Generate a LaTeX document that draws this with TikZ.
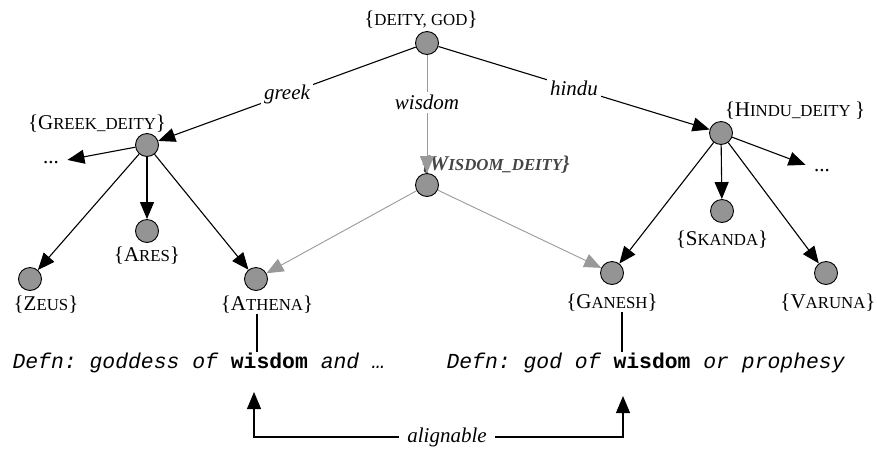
\documentclass[tikz,border=0pt]{standalone}
\usepackage{fontspec}
\setmainfont{Liberation Serif}
\setmonofont{Liberation Mono}
\usepackage{tikz}
\usetikzlibrary{arrows.meta}
\definecolor{linegray}{gray}{0.6}
\definecolor{dotgray}{gray}{0.58}
\definecolor{labgray}{gray}{0.27}
\newcommand\smc[1]{{\fontsize{16.8}{18}\selectfont #1}}

\begin{document}
\begin{tikzpicture}[x=1pt, y=-1pt, line width=1.1pt,
  syn/.style={circle, draw=black, fill=dotgray, minimum size=23pt, inner sep=0pt, line width=0.9pt},
  synlab/.style={font=\fontsize{21}{24}\selectfont, inner sep=0pt},
  rellab/.style={font=\fontsize{21}{24}\selectfont\itshape, fill=white, text=black, inner sep=3pt},
  more/.style={font=\fontsize{21}{24}\selectfont, inner sep=8pt},
  defn/.style={font=\fontsize{21.4}{24}\selectfont\ttfamily\itshape, inner sep=0pt},
  isa/.style={-{Triangle[length=17pt,width=14pt]}},
  wis/.style={linegray, line width=0.9pt, -{Triangle[length=17pt,width=14pt]}}]
\useasboundingbox (0,0) rectangle (877,448);
\node[syn] (deity) at (427,43) {};
\node[syn] (greek) at (147,145) {};
\node[syn] (wisd) at (427,185) {};
\node[syn] (hindu) at (721,133) {};
\node[syn] (ares) at (147,231) {};
\node[syn] (zeus) at (30,279) {};
\node[syn] (athena) at (256,279) {};
\node[syn] (ganesh) at (612,273) {};
\node[syn] (skanda) at (722,211) {};
\node[syn] (varuna) at (826,273) {};
\node[synlab] (deityL) at (421,20) {\{\smc{DEITY, GOD}\}};
\node[synlab] (greekL) at (97,124) {\{G\smc{REEK\_DEITY}\}};
\node[synlab] (hinduL) at (795,111) {\{H\smc{INDU\_DEITY }\}};
\node[synlab, font=\fontsize{21}{24}\selectfont\bfseries\itshape, labgray] (wisdL) at (496,165) {\{W\smc{ISDOM\_DEITY}\}};
\node[synlab] (aresL) at (147,256) {\{A\smc{RES}\}};
\node[synlab] (zeusL) at (46,305) {\{Z\smc{EUS}\}};
\node[synlab] (athenaL) at (267,305) {\{A\smc{THENA}\}};
\node[synlab] (ganeshL) at (612,303) {\{G\smc{ANESH}\}};
\node[synlab] (skandaL) at (722,240) {\{S\smc{KANDA}\}};
\node[synlab] (varunaL) at (828,303) {\{V\smc{ARUNA}\}};
\node[more] (dotsL) at (51,163) {...};
\node[more] (dotsR) at (822,171) {...};
\draw[isa] (deity) -- node[rellab] {greek} (greek);
\draw[isa] (deity) -- node[rellab] {hindu} (hindu);
\draw[wis] (deity) -- node[rellab, pos=0.4] {wisdom} (wisd);
\draw[wis] (wisd) -- (athena);
\draw[wis] (wisd) -- (ganesh);
\draw[isa] (greek) -- (dotsL);
\draw[isa] (greek) -- (ares);
\draw[isa] (greek) -- (zeus);
\draw[isa] (greek) -- (athena);
\draw[isa] (hindu) -- (dotsR);
\draw[isa] (hindu) -- (skanda);
\draw[isa] (hindu) -- (ganesh);
\draw[isa] (hindu) -- (varuna);
\node[defn, anchor=base west] (defnA) at (12,368) {Defn: goddess of \textbf{\upshape wisdom} and …};
\node[defn, anchor=base west] (defnG) at (446,368) {Defn: god of \textbf{\upshape wisdom} or prophesy};
\coordinate (wisA) at (257,0);
\coordinate (wisG) at (622,0);
\draw (wisA |- athenaL.south) -- (wisA |- defnA.north);
\draw (wisG |- ganeshL.south) -- (wisG |- defnG.north);
\node[rellab, inner sep=8pt] (align) at (447,437) {alignable};
\coordinate (tipA) at (254,392);
\coordinate (tipG) at (623,396);
\draw[isa] (align.west) -| (tipA);
\draw[isa] (align.east) -| (tipG);
\end{tikzpicture}
\end{document}
